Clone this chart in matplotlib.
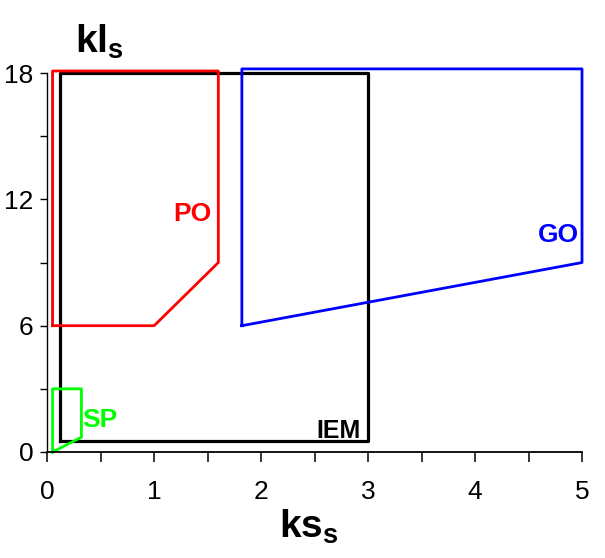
import matplotlib.pyplot as plt
from matplotlib.ticker import MultipleLocator

plt.rcParams['mathtext.fontset'] = 'custom'
plt.rcParams['mathtext.bf'] = 'Liberation Sans:bold'
plt.rcParams['mathtext.rm'] = 'Liberation Sans'

# region outlines (ks_s, kl_s)
po_x = [0.05, 1.0, 1.6, 1.6, 0.05, 0.05]
po_y = [6.0, 6.0, 9.0, 18.1, 18.1, 6.0]
iem_x = [0.12, 3.0, 3.0, 0.12, 0.12]
iem_y = [0.5, 0.5, 18.0, 18.0, 0.5]
go_x = [1.82, 5.0, 5.0, 1.82, 1.82]
go_y = [6.0, 9.0, 18.2, 18.2, 6.0]
sp_x = [0.05, 0.32, 0.32, 0.05, 0.05]
sp_y = [0.0, 0.7, 3.0, 3.0, 0.0]

narrow = ['Liberation Sans Narrow', 'DejaVu Sans Condensed', 'Liberation Sans']

fig = plt.figure(figsize=(6.05, 5.58), dpi=100)
ax = fig.add_axes([0.078, 0.19, 0.884, 0.679])

ax.plot(iem_x, iem_y, color='black', lw=2.3, clip_on=False)
ax.plot(po_x, po_y, color='#ff0000', lw=2.0, clip_on=False)
ax.plot(go_x, go_y, color='#0000ff', lw=2.0, clip_on=False)
ax.plot(sp_x, sp_y, color='#00ff00', lw=2.0, clip_on=False)

ax.text(1.36, 11.3, 'PO', color='#ff0000', fontsize=19, fontweight='bold',
        family=narrow, ha='center', va='center')
ax.text(4.78, 10.3, 'GO', color='#0000ff', fontsize=19, fontweight='bold',
        family=narrow, ha='center', va='center')
ax.text(0.49, 1.5, 'SP', color='#00ff00', fontsize=19, fontweight='bold',
        family=narrow, ha='center', va='center')
ax.text(2.72, 1.0, 'IEM', color='black', fontsize=18, fontweight='bold',
        family=narrow, ha='center', va='center')

ax.set_xlim(0, 5)
ax.set_ylim(0, 18)
ax.spines['top'].set_visible(False)
ax.spines['right'].set_visible(False)
ax.spines['left'].set_bounds(0, 18)
ax.spines['bottom'].set_bounds(0, 5)
ax.spines['left'].set_linewidth(1.0)
ax.spines['bottom'].set_linewidth(1.3)

ax.set_xticks([0, 1, 2, 3, 4, 5])
ax.set_yticks([0, 6, 12, 18])
ax.xaxis.set_minor_locator(MultipleLocator(0.5))
ax.yaxis.set_minor_locator(MultipleLocator(3))
ax.tick_params(axis='x', which='both', length=7, width=1.1, pad=13,
               labelsize=19)
ax.tick_params(axis='y', which='both', length=5, width=1.0, pad=5,
               labelsize=19)
for lab in ax.get_xticklabels() + ax.get_yticklabels():
    lab.set_family(narrow)

fig.text(0.165, 0.925, r'$\mathbf{kl}_\mathbf{s}$', fontsize=28,
         ha='center', va='center')
fig.text(0.51, 0.055, r'$\mathbf{ks}_\mathbf{s}$', fontsize=28,
         ha='center', va='center')

fig.savefig('out.png', dpi=100)
